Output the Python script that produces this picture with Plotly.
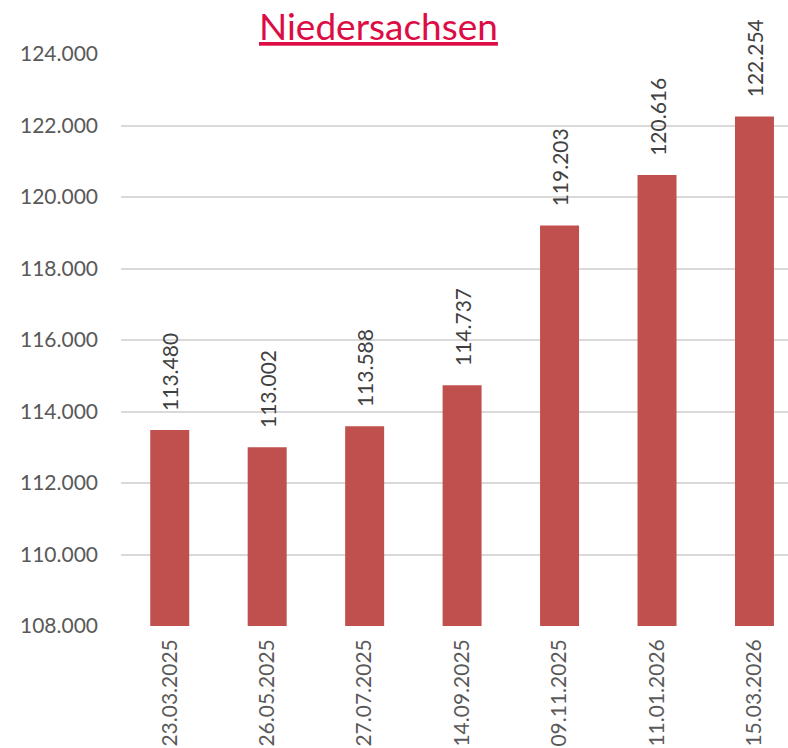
import plotly.graph_objects as go

categories = ["23.03.2025", "26.05.2025", "27.07.2025", "14.09.2025",
              "09.11.2025", "11.01.2026", "15.03.2026"]
values = [113480, 113002, 113588, 114737, 119203, 120616, 122254]
y_ticks = [108000, 110000, 112000, 114000, 116000, 118000, 120000, 122000, 124000]

FONT = "Lato"
GRAY = "#595959"

W, H = 788, 748
L, T, B = 121, 54, 122

fig = go.Figure(go.Bar(
    x=categories,
    y=values,
    width=0.4,
    marker=dict(color="#C0504D", line=dict(width=0)),
    texttemplate="\u00a0\u00a0\u00a0%{y:,.0f}",
    textposition="outside",
    textangle=-90,
    constraintext="none",
    textfont=dict(family=FONT, size=21, color="#404040"),
    cliponaxis=False,
))

fig.update_layout(
    width=W, height=H,
    margin=dict(l=L, r=0, t=T, b=B),
    paper_bgcolor="white", plot_bgcolor="white",
    separators=",.",
    showlegend=False,
    annotations=[dict(
        text="<u>Niedersachsen</u>",
        font=dict(family=FONT, size=37, color="#DC0D45"),
        x=(378 - L) / (W - L), xref="paper", xanchor="center",
        y=1, yref="paper", yanchor="bottom", yshift=4,
        showarrow=False,
    )],
)

fig.update_xaxes(
    type="category",
    range=[-0.5, 6.344],
    tickangle=-90,
    tickfont=dict(family=FONT, size=21, color=GRAY),
    showgrid=False, showline=False, zeroline=False,
    automargin=False,
    ticklabelstandoff=8,
)

fig.update_yaxes(
    range=[108000, 124000],
    tickvals=y_ticks,
    tickformat=",.0f",
    tickfont=dict(family=FONT, size=21, color=GRAY),
    showgrid=True, gridcolor="#D9D9D9", gridwidth=2,
    zeroline=False, showline=False,
    automargin=False,
    ticklabelstandoff=22,
)

fig.write_html(
    "out.html",
    config={"displayModeBar": False},
    post_script="document.body.style.margin='0';document.body.style.overflow='hidden';",
)
